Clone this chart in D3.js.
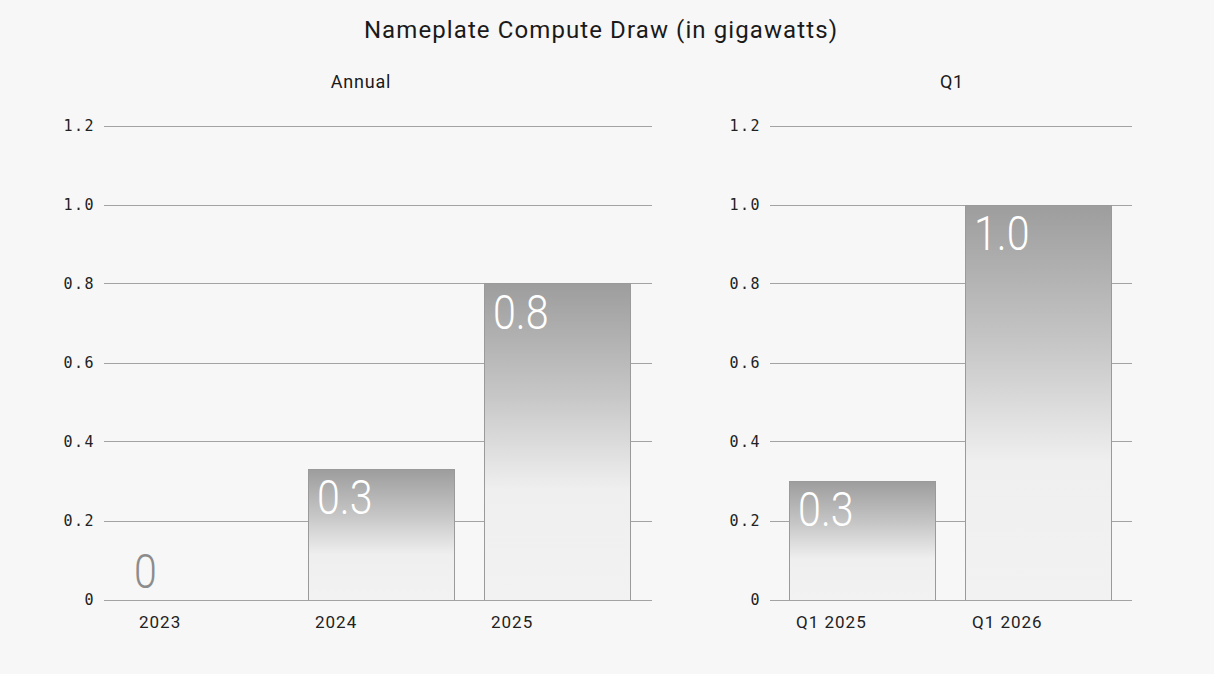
<!DOCTYPE html>
<html>
<head>
<meta charset="utf-8">
<script src="https://cdn.jsdelivr.net/npm/d3@7"></script>
<style>
  body { margin: 0; background: #f7f7f7; }
  svg { display: block; }
</style>
</head>
<body>
<svg width="1214" height="674"></svg>
<script>
const width = 1214;
const height = 674;

const title = "Nameplate Compute Draw (in gigawatts)";
const yTicks = [0, 0.2, 0.4, 0.6, 0.8, 1.0, 1.2];

const annualLabels = ["2023", "2024", "2025"];
const annualValues = [0, 0.33, 0.8];
const annualText = ["0", "0.3", "0.8"];

const q1Labels = ["Q1 2025", "Q1 2026"];
const q1Values = [0.3, 1.0];
const q1Text = ["0.3", "1.0"];

const svg = d3.select("svg");

svg.append("rect").attr("width", width).attr("height", height).attr("fill", "#f7f7f7");

// 渐变
const defs = svg.append("defs");
const grad = defs.append("linearGradient")
    .attr("id", "barGrad")
    .attr("x1", 0).attr("y1", 0).attr("x2", 0).attr("y2", 1);
grad.append("stop").attr("offset", "0%").attr("stop-color", "#9d9d9d");
grad.append("stop").attr("offset", "35%").attr("stop-color", "#c6c6c6");
grad.append("stop").attr("offset", "65%").attr("stop-color", "#efefef");
grad.append("stop").attr("offset", "100%").attr("stop-color", "#f2f2f2");

svg.append("text")
    .attr("x", 601)
    .attr("y", 38)
    .attr("text-anchor", "middle")
    .style("font-family", "Roboto, sans-serif")
    .style("font-size", "24px")
    .style("letter-spacing", "1.1px")
    .attr("fill", "#1a1a1a")
    .text(title);

const y = d3.scaleLinear().domain([0, 1.2]).range([599.5, 125.5]);

function drawPanel(opts) {
    const { name, labels, values, texts, x0, x1, axisX, labelCenter, outer, align } = opts;

    const g = svg.append("g");

    g.append("text")
        .attr("x", labelCenter)
        .attr("y", 88)
        .attr("text-anchor", "middle")
        .style("font-family", "Roboto, sans-serif")
        .style("font-size", "18px")
        .style("letter-spacing", "0.8px")
        .attr("fill", "#1a1a1a")
        .text(name);

    const x = d3.scaleBand()
        .domain(labels)
        .range([x0, x1])
        .paddingInner(0.1705)
        .paddingOuter(outer)
        .align(align);

    // 网格线
    g.selectAll(".grid")
        .data(yTicks)
        .join("line")
        .attr("x1", x0).attr("x2", x1)
        .attr("y1", d => Math.round(y(d)) + 0.5)
        .attr("y2", d => Math.round(y(d)) + 0.5)
        .attr("stroke", "#a3a3a3")
        .attr("stroke-width", 1);

    g.selectAll(".ytick")
        .data(yTicks)
        .join("text")
        .attr("x", axisX)
        .attr("y", d => y(d) + 5)
        .attr("text-anchor", "end")
        .style("font-family", "'DejaVu Sans Mono', monospace")
        .style("font-size", "15px")
        .style("letter-spacing", "1.5px")
        .attr("fill", "#222")
        .text(d => d === 0 ? "0" : d.toFixed(1));

    const data = labels.map((l, i) => ({ label: l, value: values[i], text: texts[i] }));

    g.selectAll(".bar")
        .data(data.filter(d => d.value > 0))
        .join("rect")
        .attr("x", d => Math.round(x(d.label)) + 0.5)
        .attr("y", d => Math.round(y(d.value)) + 0.5)
        .attr("width", Math.round(x.bandwidth()))
        .attr("height", d => Math.round(y(0)) - Math.round(y(d.value)))
        .attr("fill", "url(#barGrad)")
        .attr("stroke", "#9a9a9a")
        .attr("stroke-width", 1);

    // 基线
    g.append("line")
        .attr("x1", x0).attr("x2", x1)
        .attr("y1", Math.round(y(0)) + 0.5)
        .attr("y2", Math.round(y(0)) + 0.5)
        .attr("stroke", "#a3a3a3");

    g.selectAll(".val")
        .data(data)
        .join("text")
        .attr("transform", d => {
            const tx = x(d.label) + (d.value > 0 ? 9 : 2);
            const ty = d.value > 0 ? y(d.value) + 45 : y(0) - 12;
            return `translate(${tx},${ty}) scale(0.84,1)`;
        })
        .style("font-family", "Roboto, sans-serif")
        .style("font-weight", 300)
        .style("font-size", "49px")
        .attr("fill", d => d.value > 0 ? "#ffffff" : "#8c8c8c")
        .text(d => d.text);

    g.selectAll(".xlab")
        .data(data)
        .join("text")
        .attr("x", d => x(d.label) + 7)
        .attr("y", 628)
        .style("font-family", "Roboto, sans-serif")
        .style("font-size", "17px")
        .style("letter-spacing", "1px")
        .attr("fill", "#222")
        .text(d => d.label);
}

drawPanel({
    name: "Annual",
    labels: annualLabels,
    values: annualValues,
    texts: annualText,
    x0: 104, x1: 652, axisX: 95, labelCenter: 361, outer: 0.142, align: 0.56
});

drawPanel({
    name: "Q1",
    labels: q1Labels,
    values: q1Values,
    texts: q1Text,
    x0: 770, x1: 1132, axisX: 761, labelCenter: 952, outer: 0.114, align: 0.475
});
</script>
</body>
</html>
